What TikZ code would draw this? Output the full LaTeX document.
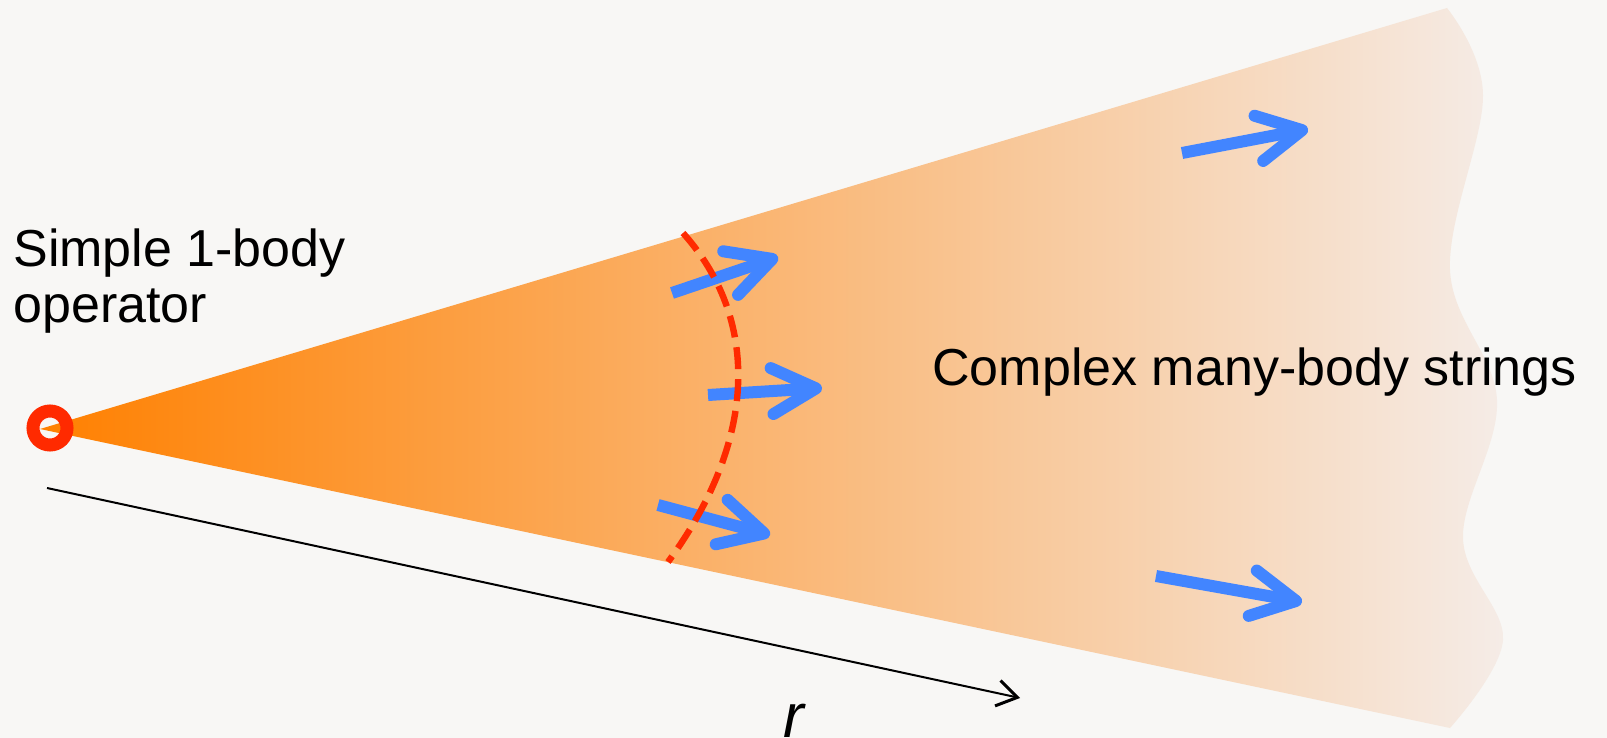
\documentclass[tikz,border=0pt]{standalone}
\usepackage{fontspec}
\setmainfont{Liberation Sans}
\usepackage{xcolor}
\usetikzlibrary{arrows.meta}
\definecolor{paper}{RGB}{248,247,245}
\definecolor{hot}{RGB}{255,128,0}
\definecolor{warm}{RGB}{250,184,136}
\definecolor{pale}{RGB}{245,236,231}
\definecolor{ring}{RGB}{255,42,0}
\definecolor{spin}{RGB}{66,133,255}

\begin{document}
\begin{tikzpicture}[x=0.5pt, y=-0.5pt,
  txt/.style={anchor=base west, inner sep=0pt, font=\fontsize{26}{28}\selectfont},
  flow/.style={spin, line width=6pt,
               -{Straight Barb[length=22pt, width=23pt, round]}},
  front/.style={ring, line width=3.2pt, dash pattern=on 11pt off 5pt},
  raxis/.style={black, line width=1pt,
                -{Straight Barb[length=10pt, width=13pt, line width=1.5pt]}},
  src/.style={circle, draw=ring, line width=6.5pt, minimum size=17pt, inner sep=0pt}
]
\fill[paper] (0,0) rectangle (1607,738);
\useasboundingbox (0,0) rectangle (1607,738);

\coordinate (apex) at (40,429);
\coordinate (topR) at (1447,8);
\shade[left color=hot, middle color=warm, right color=pale]
  (apex) -- (topR) -- plot[smooth, tension=0.6] coordinates {(1447,8) (1483,95)
  (1450,270) (1497,400) (1463,538) (1503,640) (1450,728)} -- cycle;

\node[src] (op) at (50,428) {};

\coordinate (r0) at (47,488);
\coordinate (r1) at (1020,698);
\draw[raxis] (r0) -- (r1);
\node[txt, font=\fontsize{31}{34}\selectfont\itshape] (rlab) at (783,737) {r};

\coordinate (a1) at (672,293); \coordinate (b1) at (778,257);
\coordinate (a2) at (708,395); \coordinate (b2) at (822,388);
\coordinate (a3) at (658,505); \coordinate (b3) at (770,535);
\coordinate (a4) at (1182,153); \coordinate (b4) at (1308,129);
\coordinate (a5) at (1156,576); \coordinate (b5) at (1302,602);
\foreach \i in {1,...,5}
  \draw[flow] (a\i) -- (b\i);

\coordinate (f0) at (683,233);
\coordinate (f1) at (668,562);
\draw[front] (f0) .. controls (759,318) and (759,438) .. (f1);

\node[txt, align=left] (simple) at (13,322) {Simple 1-body\\operator};
\node[txt] (complex) at (932,385) {Complex many-body strings};
\end{tikzpicture}
\end{document}
